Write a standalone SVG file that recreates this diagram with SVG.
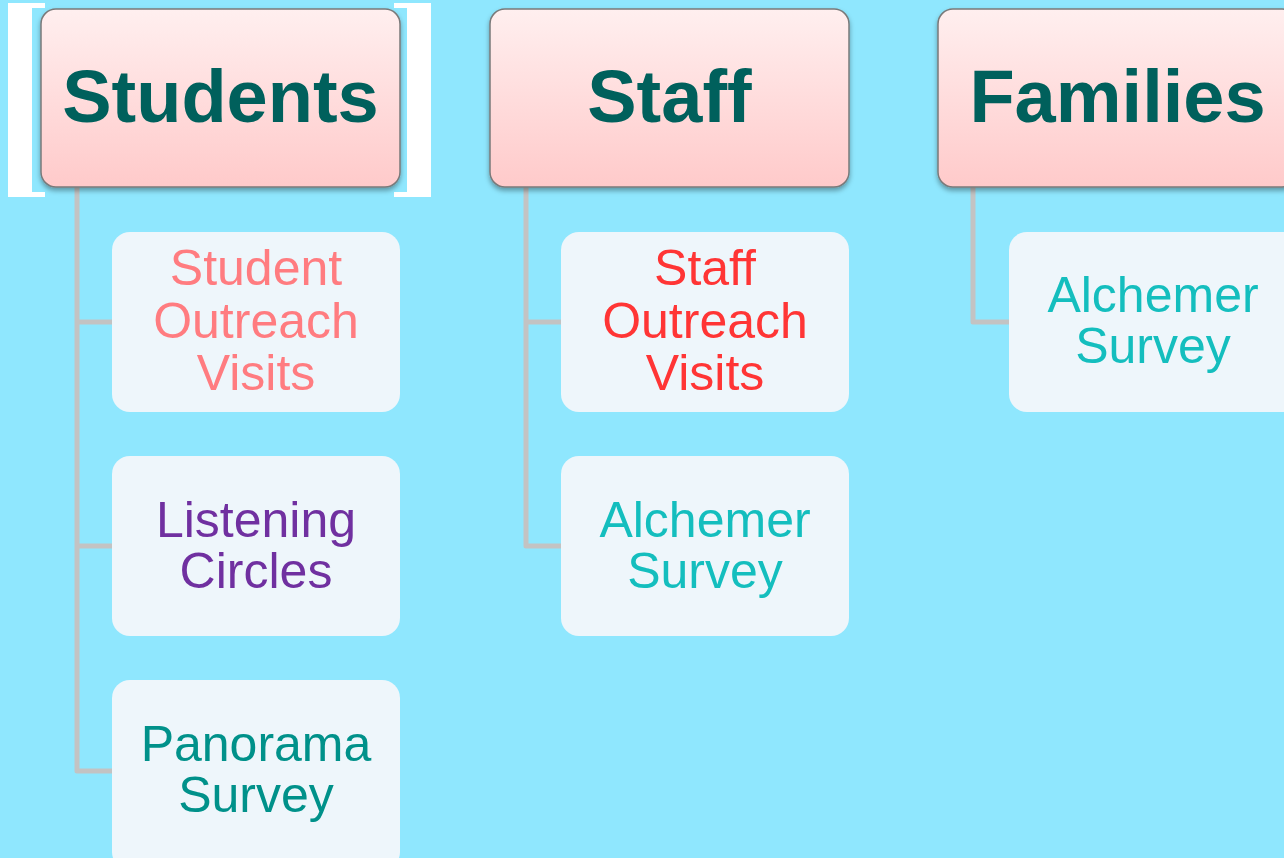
<svg xmlns="http://www.w3.org/2000/svg" width="1284" height="858" viewBox="0 0 1284 858">
  <defs>
    <linearGradient id="hdrGrad" x1="0" y1="0" x2="0" y2="1">
      <stop offset="0" stop-color="#FFEFEF"/>
      <stop offset="1" stop-color="#FFCACA"/>
    </linearGradient>
    <filter id="shadow" x="-10%" y="-10%" width="120%" height="130%">
      <feDropShadow dx="0" dy="3" stdDeviation="2.5" flood-color="#000" flood-opacity="0.35"/>
    </filter>
    <style>
      .hdr { fill: url(#hdrGrad); stroke: #7A7A7A; stroke-width: 1.5; filter: url(#shadow); }
      .hdrText { font-family: "Liberation Sans", Arial, sans-serif; font-weight: bold; font-size: 74px; fill: #00605C; text-anchor: middle; }
      .child { fill: #EEF6FB; }
      .childText { font-family: "Liberation Sans", Arial, sans-serif; font-size: 50px; text-anchor: middle; }
      .conn { fill: none; stroke: #C3C3C3; stroke-width: 5; stroke-linejoin: round; }
      .sel { fill: #FFFFFF; }
    </style>
  </defs>
  <rect width="1284" height="858" fill="#8FE7FE"/>

  <!-- selection brackets -->
  <g id="selection">
    <rect class="sel" x="8" y="3" width="24" height="194"/>
    <rect class="sel" x="8" y="3" width="37" height="5"/>
    <rect class="sel" x="8" y="192" width="37" height="5"/>
    <rect class="sel" x="407" y="3" width="24" height="194"/>
    <rect class="sel" x="394" y="3" width="37" height="5"/>
    <rect class="sel" x="394" y="192" width="37" height="5"/>
  </g>

  <g id="connectors">
    <path class="conn" d="M77,187 V771 H112 M77,322 H112 M77,546 H112"/>
    <path class="conn" d="M526,187 V546 H561 M526,322 H561"/>
    <path class="conn" d="M973,187 V322 H1009"/>
  </g>

  <g id="students">
    <rect class="hdr" x="41" y="9" width="359" height="178" rx="15"/>
    <text class="hdrText" x="220.5" y="122">Students</text>
  </g>
  <g id="staff">
    <rect class="hdr" x="490" y="9" width="359" height="178" rx="15"/>
    <text class="hdrText" x="669.5" y="122">Staff</text>
  </g>
  <g id="families">
    <rect class="hdr" x="938" y="9" width="359" height="178" rx="15"/>
    <text class="hdrText" x="1117.5" y="122">Families</text>
  </g>

  <g id="student-outreach">
    <rect class="child" x="112" y="232" width="288" height="180" rx="18"/>
    <text class="childText" fill="#FF7C80"><tspan x="256" y="285">Student</tspan><tspan x="256" y="338">Outreach</tspan><tspan x="256" y="390">Visits</tspan></text>
  </g>
  <g id="listening-circles">
    <rect class="child" x="112" y="456" width="288" height="180" rx="18"/>
    <text class="childText" fill="#7030A0"><tspan x="256" y="537">Listening</tspan><tspan x="256" y="588">Circles</tspan></text>
  </g>
  <g id="panorama-survey">
    <rect class="child" x="112" y="680" width="288" height="190" rx="18"/>
    <text class="childText" fill="#00918A"><tspan x="256" y="761">Panorama</tspan><tspan x="256" y="812">Survey</tspan></text>
  </g>

  <g id="staff-outreach">
    <rect class="child" x="561" y="232" width="288" height="180" rx="18"/>
    <text class="childText" fill="#FF3535"><tspan x="705" y="285">Staff</tspan><tspan x="705" y="338">Outreach</tspan><tspan x="705" y="390">Visits</tspan></text>
  </g>
  <g id="staff-alchemer">
    <rect class="child" x="561" y="456" width="288" height="180" rx="18"/>
    <text class="childText" fill="#14BEBE"><tspan x="705" y="537">Alchemer</tspan><tspan x="705" y="588">Survey</tspan></text>
  </g>

  <g id="families-alchemer">
    <rect class="child" x="1009" y="232" width="300" height="180" rx="18"/>
    <text class="childText" fill="#14BEBE"><tspan x="1153" y="312">Alchemer</tspan><tspan x="1153" y="363">Survey</tspan></text>
  </g>
</svg>
